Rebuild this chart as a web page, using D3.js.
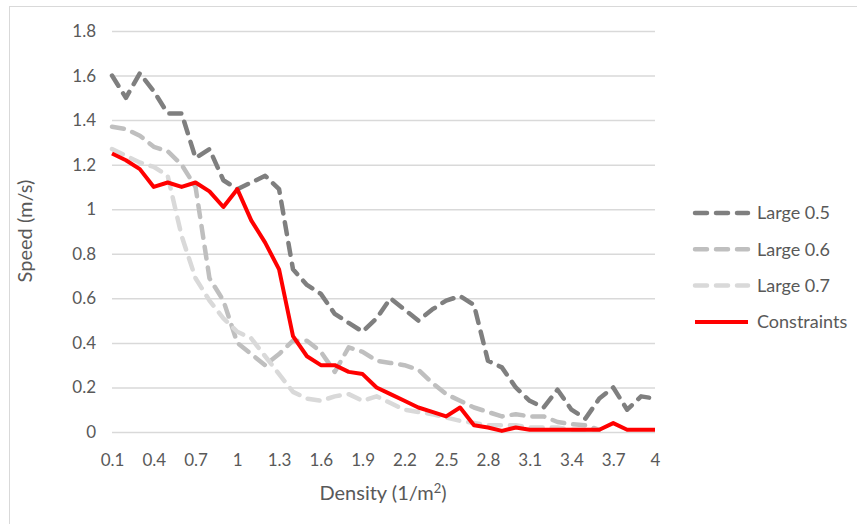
<!DOCTYPE html>
<html>
<head>
<meta charset="utf-8">
<script src="https://cdn.jsdelivr.net/npm/d3@7"></script>
<style>
  body { margin: 0; background: #fff; }
  text { font-family: Lato, "Open Sans", sans-serif; fill: #595959; }
</style>
</head>
<body>
<div id="chart"></div>
<script>
// density categories 0.1 .. 4.0
const densities = d3.range(1, 41).map(i => String(+(i / 10).toFixed(1)));
const xTickLabels = ["0.1", "0.4", "0.7", "1", "1.3", "1.6", "1.9", "2.2", "2.5", "2.8", "3.1", "3.4", "3.7", "4"];
const yTickValues = [0, 0.2, 0.4, 0.6, 0.8, 1, 1.2, 1.4, 1.6, 1.8];

const large05 = [1.60, 1.50, 1.61, 1.53, 1.43, 1.43, 1.23, 1.27, 1.13, 1.09,
                 1.12, 1.15, 1.09, 0.73, 0.66, 0.62, 0.53, 0.49, 0.45, 0.51,
                 0.60, 0.55, 0.50, 0.55, 0.59, 0.61, 0.57, 0.32, 0.29, 0.20,
                 0.14, 0.11, 0.19, 0.10, 0.06, 0.15, 0.20, 0.10, 0.16, 0.15];
const large06 = [1.37, 1.36, 1.33, 1.28, 1.26, 1.20, 1.10, 0.69, 0.59, 0.40,
                 0.35, 0.30, 0.35, 0.41, 0.41, 0.36, 0.27, 0.38, 0.36, 0.32,
                 0.31, 0.30, 0.28, 0.22, 0.17, 0.14, 0.11, 0.09, 0.07, 0.08,
                 0.07, 0.07, 0.045, 0.035, 0.03, 0.01, null, null, null, null];
const large07 = [1.27, 1.24, 1.21, 1.19, 1.15, 0.88, 0.69, 0.59, 0.51, 0.45,
                 0.42, 0.34, 0.26, 0.18, 0.15, 0.14, 0.16, 0.17, 0.14, 0.16,
                 0.13, 0.10, 0.09, 0.08, 0.065, 0.05, 0.04, 0.03, 0.03, 0.03,
                 0.02, 0.02, 0.02, 0.01, 0.01, 0.01, null, null, null, null];
const constraints = [1.25, 1.22, 1.18, 1.10, 1.12, 1.10, 1.12, 1.08, 1.01, 1.09,
                     0.95, 0.85, 0.73, 0.43, 0.34, 0.30, 0.30, 0.27, 0.26, 0.20,
                     0.17, 0.14, 0.11, 0.09, 0.07, 0.11, 0.03, 0.02, 0.005, 0.02,
                     0.01, 0.01, 0.01, 0.01, 0.01, 0.01, 0.04, 0.01, 0.01, 0.01];

const seriesNames = ["Large 0.5", "Large 0.6", "Large 0.7", "Constraints"];
const seriesColors = ["#7f7f7f", "#bfbfbf", "#d9d9d9", "#ff0000"];
const seriesValues = [large05, large06, large07, constraints];

const svgWidth = 857, svgHeight = 524;
const plot = { left: 112, right: 655, top: 31, bottom: 432 };

const svg = d3.select("#chart").append("svg")
    .attr("width", svgWidth)
    .attr("height", svgHeight);

// chart border
svg.append("rect")
    .attr("x", 9.5).attr("y", 6.5)
    .attr("width", 870).attr("height", 540)
    .attr("fill", "none")
    .attr("stroke", "#d9d9d9");

const xScale = d3.scalePoint()
    .domain(densities)
    .range([plot.left, plot.right]);

const yScale = d3.scaleLinear()
    .domain([0, 1.8])
    .range([plot.bottom, plot.top]);

// y axis with gridlines
const yAxis = svg.append("g")
    .attr("transform", `translate(${plot.left}, 0)`)
    .call(d3.axisLeft(yScale)
        .tickValues(yTickValues)
        .tickSize(-(plot.right - plot.left))
        .tickPadding(16)
        .tickFormat(d3.format("~g")));
yAxis.select(".domain").remove();
yAxis.selectAll("line").attr("stroke", "#d9d9d9").attr("stroke-width", 1.5);
yAxis.selectAll("text").style("font-size", "17px");

// x axis
const xAxis = svg.append("g")
    .attr("transform", `translate(0, ${plot.bottom})`)
    .call(d3.axisBottom(xScale)
        .tickValues(xTickLabels)
        .tickSize(0)
        .tickPadding(22));
xAxis.select(".domain").remove();
xAxis.selectAll("text").style("font-size", "17px");

// lines
const line = d3.line()
    .defined(d => d.v != null)
    .x(d => xScale(d.x))
    .y(d => yScale(d.v));

seriesValues.forEach((vals, i) => {
    const pts = vals.map((v, j) => ({ x: densities[j], v: v }));
    const path = svg.append("path")
        .datum(pts)
        .attr("fill", "none")
        .attr("stroke", seriesColors[i])
        .attr("stroke-width", i === 3 ? 4 : 4.5)
        .attr("stroke-linejoin", "round")
        .attr("d", line);
    if (i < 3) {
        path.attr("stroke-dasharray", "12,9").attr("stroke-linecap", "round");
    }
});

// axis titles
svg.append("text")
    .attr("transform", "translate(32, 231) rotate(-90)")
    .attr("text-anchor", "middle")
    .style("font-size", "20px")
    .text("Speed (m/s)");

svg.append("text")
    .attr("x", 383)
    .attr("y", 500)
    .attr("text-anchor", "middle")
    .style("font-size", "20px")
    .html("Density (1/m<tspan dy='-7' font-size='13px'>2</tspan><tspan dy='7'>)</tspan>");

// legend
const legend = svg.append("g");
seriesNames.forEach((name, i) => {
    const y = 213 + i * 36.3;
    const l = legend.append("line")
        .attr("x1", 695).attr("x2", 748)
        .attr("y1", y).attr("y2", y)
        .attr("stroke", seriesColors[i])
        .attr("stroke-width", i === 3 ? 4 : 4.5);
    if (i < 3) l.attr("stroke-dasharray", "12,9").attr("stroke-linecap", "round");
    legend.append("text")
        .attr("x", 757)
        .attr("y", y)
        .attr("dy", "0.35em")
        .style("font-size", "18px")
        .text(name);
});
</script>
</body>
</html>
